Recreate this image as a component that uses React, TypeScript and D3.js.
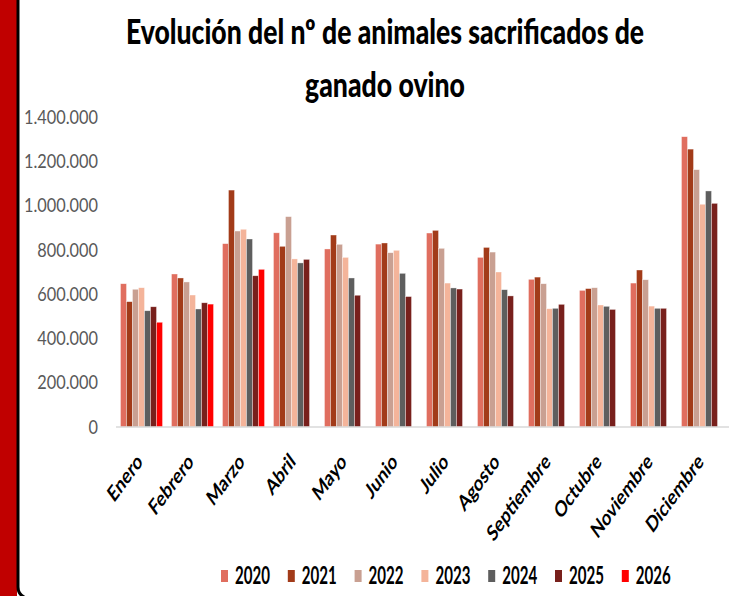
import React, { useLayoutEffect, useRef, useState } from "react";
import * as d3 from "d3";

const months = ["Enero", "Febrero", "Marzo", "Abril", "Mayo", "Junio", "Julio", "Agosto", "Septiembre", "Octubre", "Noviembre", "Diciembre"];
const years = ["2020", "2021", "2022", "2023", "2024", "2025", "2026"];
const colors = ["#E06E5F", "#A23B19", "#C9A092", "#F4B49A", "#5E5E5E", "#78201C", "#FF0000"];

const v2020 = [647000, 691000, 828000, 877000, 804000, 826000, 876000, 766000, 667000, 617000, 650000, 1311000];
const v2021 = [566000, 673000, 1070000, 816000, 867000, 831000, 888000, 811000, 677000, 625000, 709000, 1255000];
const v2022 = [622000, 655000, 885000, 950000, 825000, 787000, 807000, 790000, 647000, 629000, 665000, 1162000];
const v2023 = [629000, 596000, 893000, 759000, 766000, 798000, 650000, 700000, 534000, 551000, 546000, 1006000];
const v2024 = [525000, 533000, 849000, 741000, 673000, 694000, 628000, 620000, 536000, 545000, 536000, 1066000];
const v2025 = [543000, 561000, 683000, 757000, 595000, 589000, 623000, 592000, 554000, 531000, 536000, 1010000];
const v2026 = [473000, 555000, 712000, null, null, null, null, null, null, null, null, null];
const series = [v2020, v2021, v2022, v2023, v2024, v2025, v2026];

const yTicks = [0, 200000, 400000, 600000, 800000, 1000000, 1200000, 1400000];
const titleLines = ["Evolución del nº de animales sacrificados de", "ganado ovino"];
const titleWidths = [518, 160];

const W = 732;
const H = 596;
const fmt = (v: number) => (v === 0 ? "0" : d3.format(",")(v).replace(/,/g, "."));

function FitText({ x, y, width, children, ...rest }: any) {
  const ref = useRef<SVGTextElement>(null);
  const [sx, setSx] = useState(0.7);
  useLayoutEffect(() => {
    if (ref.current) {
      const w = ref.current.getComputedTextLength();
      if (w > 0) setSx(width / w);
    }
  }, [width, children]);
  return (
    <text ref={ref} transform={`translate(${x},${y}) scale(${sx},1)`} {...rest}>
      {children}
    </text>
  );
}

export default function App() {
  const x0 = d3.scaleBand<string>().domain(months).range([116, 728]).paddingInner(0.176).paddingOuter(0.088);
  const x1 = d3.scaleBand<string>().domain(years).range([0, x0.bandwidth()]);
  const y = d3.scaleLinear().domain([0, 1400000]).range([427, 117]);

  return (
    <div style={{ position: "absolute", left: 0, top: 0 }}>
      <svg width={W} height={H} style={{ display: "block", background: "#fff" }}>
        <rect x={0} y={0} width={W} height={H} fill="#fff" />
        <rect x={0} y={0} width={17} height={H} fill="#C00000" />
        <path d="M18,0 V587 Q18,595 26,598" fill="none" stroke="#000" strokeWidth={3} />

        {titleLines.map((t, i) => (
          <FitText
            key={i}
            x={385}
            y={i === 0 ? 44 : 97}
            width={titleWidths[i]}
            textAnchor="middle"
            fontFamily="Lato, 'Open Sans', sans-serif"
            fontWeight={900}
            fontSize={34}
            fill="#000"
          >
            {t}
          </FitText>
        ))}

        {yTicks.map((t) => (
          <text
            key={t}
            transform={`translate(98,${y(t)}) scale(0.86,1)`}
            textAnchor="end"
            dy="0.35em"
            fontFamily="Lato, sans-serif"
            fontSize={19}
            fill="#595959"
          >
            {fmt(t)}
          </text>
        ))}

        {months.map((m, mi) => (
          <g key={m} transform={`translate(${x0(m)},0)`}>
            {series.map((s, si) => {
              const v = s[mi];
              if (v == null) return null;
              return (
                <rect
                  key={si}
                  x={x1(years[si])}
                  y={y(v)}
                  width={x1.bandwidth()}
                  height={y(0) - y(v)}
                  fill={colors[si]}
                  stroke="#ffffff"
                  strokeOpacity={0.6}
                  strokeWidth={0.6}
                />
              );
            })}
          </g>
        ))}

        <line x1={116} x2={729} y1={y(0)} y2={y(0)} stroke="#D9D9D9" strokeWidth={1.5} />

        {months.map((m) => (
          <text
            key={m}
            transform={`translate(${(x0(m) as number) + x0.bandwidth() / 2 + 2},463) scale(0.73,1) rotate(-45)`}
            textAnchor="end"
            fontFamily="Lato, sans-serif"
            fontWeight="bold"
            fontSize={22}
            fill="#000"
          >
            {m}
          </text>
        ))}

        {years.map((yr, i) => {
          const lx = 221 + i * 66.8;
          return (
            <g key={yr}>
              <rect x={lx} y={570} width={7} height={12} fill={colors[i]} />
              <FitText
                x={lx + 14}
                y={584}
                width={35}
                fontFamily="Lato, sans-serif"
                fontWeight="bold"
                fontSize={24}
                fill="#000"
              >
                {yr}
              </FitText>
            </g>
          );
        })}
      </svg>
    </div>
  );
}
